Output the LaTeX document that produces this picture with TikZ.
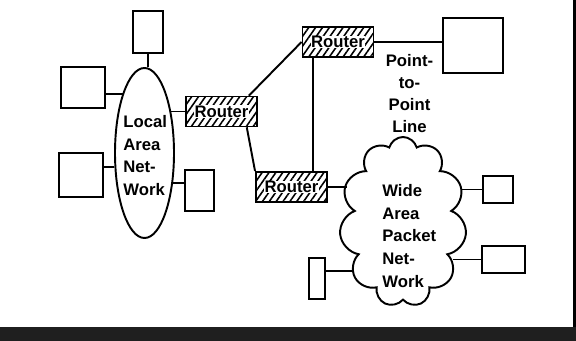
\documentclass[tikz,border=0pt]{standalone}
\usepackage{fontspec}
\setmainfont{Liberation Sans}
\usetikzlibrary{positioning, shapes.geometric, shapes.symbols, patterns.meta}

\tikzset{
  host/.style={draw, line width=1.1pt, inner sep=0pt},
  router/.style={draw, line width=1.1pt, pattern={Lines[angle=55, distance=3.2pt, line width=0.9pt]}, minimum width=1.42cm, minimum height=0.6cm, inner sep=0pt,
    label={[fill=white, inner sep=0.3pt, font=\bfseries\fontsize{9.5}{11}\selectfont]center:Router}},
  lbl/.style={font=\bfseries\fontsize{9.5}{13}\selectfont, inner sep=0pt},
  link/.style={line width=1.1pt}
}

\begin{document}
\begin{tikzpicture}

\useasboundingbox (0,0) rectangle (11.52, 6.82);

% scanned border
\fill[black!88] (0,0) rectangle (11.52, 0.28);
\fill[black] (11.46, 0.28) rectangle (11.52, 6.82);

% local area network
\node[ellipse, draw, line width=1.1pt, minimum width=1.18cm, minimum height=3.4cm] (lan) at (2.89, 3.76) {};
\node[lbl, align=left, anchor=west] (lantext) at (2.46, 3.71) {Local\\Area\\Net-\\Work};

\node[host, minimum width=0.6cm, minimum height=0.84cm] (htop) at (2.96, 6.18) {};
\node[host, minimum width=0.88cm, minimum height=0.82cm] (hul) at (1.66, 5.07) {};
\node[host, minimum width=0.88cm, minimum height=0.88cm] (hll) at (1.62, 3.32) {};
\node[host, minimum width=0.58cm, minimum height=0.82cm] (hlr) at (3.99, 3.01) {};

% routers
\node[router] (r1) at (4.43, 4.59) {};
\node[router] (r2) at (6.76, 5.98) {};
\node[router] (r3) at (5.83, 3.08) {};

% point-to-point line
\node[host, minimum width=1.2cm, minimum height=1.1cm] (htr) at (9.46, 5.91) {};
\node[lbl, align=center, font=\bfseries\fontsize{9.5}{12.5}\selectfont] (ptp) at (8.19, 4.95) {Point-\\to-\\Point\\Line};

% wide area packet network
\node[cloud, draw, line width=1.1pt, cloud puffs=11, minimum width=2.54cm, minimum height=3.4cm] (wan) at (8.06, 2.38) {};
\node[lbl, align=left, anchor=west] (wantext) at (7.64, 2.10) {Wide\\Area\\Packet\\Net-\\Work};

\node[host, minimum width=0.6cm, minimum height=0.54cm] (hwr1) at (9.96, 3.03) {};
\node[host, minimum width=0.86cm, minimum height=0.54cm] (hwr2) at (10.07, 1.63) {};
\node[host, minimum width=0.32cm, minimum height=0.82cm] (hwl) at (6.34, 1.25) {};

% links
\draw[link] (htop.south) -- (htop.south |- lan.north);
\draw[link] (hul.344) -- (hul.344 -| lan.110);
\draw[link] (hll.20) -- (hll.20 -| lan.206);
\draw[link] (hlr.153) -- (hlr.153 -| lan.313);
\draw[link] (r1.west) -- (r1.west -| lan.59);

\draw[link] (r1.30) -- (r2.west);
\draw[link] (r1.328) -- (r3.north west);
\draw[link] (r2.213) -- (r2.213 |- r3.north);
\draw[link] (r2.east) -- (r2.east -| htr.west);

\draw[link] (r3.east) -- (r3.east -| wan.143);
\draw[link] (hwr1.west) -- (hwr1.west -| wan.31);
\draw[link] (hwr2.west) -- (hwr2.west -| wan.328);
\draw[link] (hwl.39) -- (hwl.39 -| wan.219);

\end{tikzpicture}
\end{document}
